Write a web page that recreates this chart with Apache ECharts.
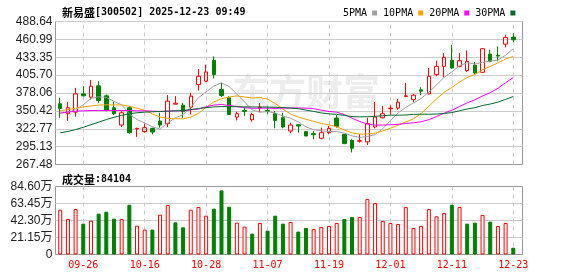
<!DOCTYPE html>
<html><head><meta charset="utf-8">
<script src="https://cdn.jsdelivr.net/npm/echarts@6/dist/echarts.min.js"></script>
<style>html,body{margin:0;padding:0;background:#fff}#c{width:578px;height:276px}</style>
</head><body><div id="c"></div>
<script>
const dates = ['09-23','09-24','09-25','09-26','09-29','09-30','10-09','10-10','10-13','10-14','10-15','10-16','10-17','10-20','10-21','10-22','10-23','10-24','10-27','10-28','10-29','10-30','10-31','11-03','11-04','11-05','11-06','11-07','11-10','11-11','11-12','11-13','11-14','11-17','11-18','11-19','11-20','11-21','11-24','11-25','11-26','11-27','11-28','12-01','12-02','12-03','12-04','12-05','12-08','12-09','12-10','12-11','12-12','12-15','12-16','12-17','12-18','12-19','12-22','12-23'];
const opens = [361.4,346.0,348.5,376.7,371.6,389.1,373.7,355.2,328.5,355.2,
322.4,318.3,323.4,334.7,330.6,360.8,359.3,356.2,391.1,396.3,
428.6,383.4,370.6,340.8,351.1,336.7,355.2,351.1,346.0,339.8,
319.3,329.0,318.3,315.2,308.0,316.7,339.3,314.2,304.9,303.4,
302.4,325.5,339.8,353.7,354.7,372.7,368.0,382.9,376.7,406.5,
419.3,428.6,419.3,412.7,420.9,410.1,438.3,436.3,453.7,464.5];
const closes = [354.2,355.2,376.7,373.7,388.6,366.5,351.1,346.0,347.5,316.7,
323.4,324.4,317.7,328.5,365.5,362.4,349.1,373.2,403.9,410.6,
406.5,374.2,344.9,346.0,349.6,344.9,356.2,349.6,335.7,325.5,
328.5,327.0,311.6,313.6,316.7,323.4,326.5,299.8,292.6,304.4,
330.6,340.8,346.0,354.7,363.9,373.7,374.7,380.9,403.9,419.3,
433.2,416.8,428.0,427.0,409.1,446.5,427.0,435.2,464.0,460.4];
const lows = [339.8,334.7,341.4,372.6,368.0,362.9,349.6,343.9,325.5,315.2,
310.1,316.7,314.2,324.4,325.5,360.8,339.8,344.9,381.9,394.7,
400.4,371.6,343.9,335.7,342.9,333.7,348.5,346.0,323.4,323.4,
315.7,316.7,311.1,306.5,306.5,314.2,324.4,298.8,286.0,301.3,
297.8,323.4,338.8,344.9,352.1,371.6,363.9,374.7,375.7,403.9,
402.4,415.7,417.8,410.6,406.5,409.1,425.5,427.0,448.6,456.8];
const highs = [370.6,364.4,386.0,388.6,398.3,396.3,375.7,364.4,350.1,357.8,
324.4,330.6,324.4,347.5,374.7,373.2,362.9,378.3,415.2,421.9,
434.7,393.7,373.2,349.0,355.7,347.5,362.4,357.3,350.1,347.5,
332.1,329.0,319.3,319.3,324.4,327.0,343.9,314.7,306.5,314.2,
339.8,364.4,357.8,359.3,369.1,393.7,376.7,387.0,416.8,428.0,
439.8,452.7,439.8,444.0,426.0,447.6,445.0,450.1,468.1,470.6];
const ma5 = [347.0,348.5,352.5,360.0,369.7,372.1,371.3,365.2,359.9,345.6,
336.9,331.6,325.9,322.1,331.9,339.7,344.6,355.7,370.8,379.8,
388.7,393.7,388.0,376.4,364.2,351.9,348.3,349.3,347.2,342.4,
339.1,333.3,325.7,321.2,319.5,318.5,318.4,316.0,311.8,309.3,
310.8,313.6,322.9,335.3,347.2,355.8,362.6,369.6,379.4,390.5,
402.4,410.8,420.2,424.9,422.8,425.5,427.5,429.0,436.4,446.6];
const ma10 = [350.5,352.5,354.5,356.5,358.0,359.3,359.8,359.5,359.6,357.6,
354.5,351.5,345.6,341.0,338.7,338.3,338.1,340.8,346.5,355.9,
364.2,369.2,371.9,373.6,372.0,370.3,371.0,368.6,361.8,353.3,
345.5,340.8,337.5,334.2,330.9,328.8,325.8,320.8,316.5,314.4,
314.6,316.0,319.4,323.6,328.3,333.3,338.1,346.2,357.4,368.9,
379.1,386.7,394.9,402.1,406.7,413.9,419.2,424.6,430.6,434.7];
const ma20 = [347.0,348.5,350.0,350.5,351.0,351.0,351.0,351.0,351.0,351.0,
350.5,350.5,350.0,349.5,350.0,350.5,350.5,352.0,353.3,356.7,
359.4,360.3,358.7,357.3,355.4,354.3,354.6,354.7,354.2,354.6,
354.8,355.0,354.7,353.9,351.5,349.5,348.4,344.7,339.2,333.9,
330.1,328.4,328.5,328.9,329.6,331.0,332.0,333.5,336.9,341.6,
346.9,351.4,357.2,362.8,367.5,373.6,378.6,385.4,394.0,401.8];
const ma30 = [316.5,318.5,321.5,325.0,329.0,333.0,337.0,340.5,343.5,346.0,
347.5,348.5,349.0,349.5,350.0,350.5,351.0,352.5,354.0,355.5,
356.5,357.0,357.0,356.8,356.6,356.5,356.4,356.3,356.0,355.6,
354.7,353.8,351.6,349.6,347.2,345.8,345.0,343.4,341.6,341.2,
341.4,342.0,342.9,343.8,343.7,344.1,345.0,345.2,345.2,345.5,
346.4,347.8,350.6,353.3,355.3,358.7,361.0,363.9,368.2,372.7];
const volumes = [55.7,44.2,56.5,38.4,42.1,50.8,53.2,44.6,44.2,61.9,
35.9,31.0,31.0,49.5,61.5,40.0,33.8,55.7,59.0,48.3,
57.0,79.7,59.4,39.6,34.7,26.0,39.2,29.7,48.3,38.4,
40.4,28.5,33.0,31.8,34.3,35.5,39.2,44.2,46.6,46.6,
68.9,64.0,41.7,39.2,38.0,59.0,33.0,35.5,56.5,47.5,
51.6,61.9,59.0,38.4,39.6,49.1,40.9,35.5,39.2,8.41];
const volUp = [1,1,1,0,1,0,0,0,1,0,
1,1,0,1,1,0,0,1,1,1,
0,0,0,1,1,0,1,0,0,0,
1,0,0,1,1,1,1,0,0,1,
1,1,1,1,1,1,1,1,1,1,
1,0,1,0,0,1,0,1,1,0];
const priceTicks = ['267.48','295.13','322.77','350.42','378.06','405.70','433.35','460.99','488.64'];
const volTicks = ['0','21.15万','42.30万','63.45万','84.60万'];
const maNames = ['5PMA','10PMA','20PMA','30PMA'];
const titleName = '新易盛';
const titleRest = '[300502] 2025-12-23 09:49';
const volLabel = '成交量';
const volLast = ':84104';
const watermark = '东方财富';

const P_MIN = 267.48, P_MAX = 488.64, P_INT = (P_MAX - P_MIN) / 8;
const V_MAX = 84.6, V_INT = V_MAX / 4;
const RED = '#ff0000', GREEN = '#008000';
const cats = dates.concat(['']);
const candle = dates.map((d, i) => [opens[i], closes[i], lows[i], highs[i]]);
const vol = volumes.map((v, i) => ({
  value: v,
  itemStyle: volUp[i] ? {color: '#ffffff', borderColor: RED, borderWidth: 1} : {color: GREEN, borderColor: GREEN, borderWidth: 1}
}));
const showIdx = (idx) => idx >= 3 && (idx - 3) % 8 === 0 && idx < dates.length;
const mono = "'DejaVu Sans Mono', monospace";
const sans = "'Liberation Sans', 'Noto Sans CJK SC', sans-serif";
const cjk = "'Noto Sans CJK SC', sans-serif";

const PX = {l: 55.5, w: 467}, DX = {l: 56.4, w: 468.4};
const PT = {t: 21.5, h: 143}, VT = {t: 186.5, h: 68};

const dataX = (gi, len, labels) => ({
  type: 'category', gridIndex: gi, data: cats, boundaryGap: true,
  axisLine: {show: false},
  axisTick: {show: true, inside: true, length: len, alignWithLabel: true, interval: (i) => showIdx(i),
    lineStyle: {color: '#cccccc', width: 1, type: [4, 4]}},
  axisLabel: {show: labels, interval: (i) => showIdx(i), color: RED, fontFamily: mono, fontSize: 10, margin: 6},
  splitLine: {show: false}
});
const frameX = (gi) => ({type: 'category', gridIndex: gi, data: cats, show: false});

const chart = echarts.init(document.getElementById('c'), null, {renderer: 'canvas'});
chart.setOption({
  animation: false,
  backgroundColor: '#fff',
  title: [
    {left: 57, top: 2, text: '{a|' + titleName + '}{b|' + titleRest + '}',
      textStyle: {rich: {a: {fontFamily: cjk, fontSize: 11, color: '#000'}, b: {fontFamily: mono, fontSize: 10, color: '#000'}}}},
    {left: 57, top: 169, text: '{a|' + volLabel + '}{b|' + volLast + '}',
      textStyle: {rich: {a: {fontFamily: cjk, fontSize: 11, color: '#000'}, b: {fontFamily: mono, fontSize: 10, color: '#000'}}}}
  ],
  legend: {
    left: 338, top: 3, align: 'right', icon: 'rect', itemWidth: 5, itemHeight: 5, itemGap: 6,
    data: maNames, textStyle: {fontFamily: mono, fontSize: 10, color: '#000'}
  },
  graphic: [{
    type: 'text', x: 306, y: 92, z: 0, silent: true,
    style: {text: watermark, font: "bold 37px 'Noto Sans CJK SC'", fill: '#ededed', align: 'center', verticalAlign: 'middle'}
  }],
  grid: [
    {left: PX.l, top: PT.t, width: PX.w, height: PT.h, show: true, borderColor: '#999', borderWidth: 1, backgroundColor: 'transparent'},
    {left: PX.l, top: VT.t, width: PX.w, height: VT.h, show: true, borderColor: '#999', borderWidth: 1, backgroundColor: 'transparent'},
    {left: DX.l, top: PT.t, width: DX.w, height: PT.h},
    {left: DX.l, top: VT.t, width: DX.w, height: VT.h}
  ],
  xAxis: [frameX(0), frameX(1), dataX(2, PT.h, false), dataX(3, VT.h, true)],
  yAxis: [
    {type: 'value', gridIndex: 0, min: P_MIN, max: P_MAX, interval: P_INT,
      axisLine: {show: false}, axisTick: {show: false},
      axisLabel: {margin: 3, color: '#222', fontFamily: sans, fontSize: 12,
        formatter: (v) => priceTicks[Math.round((v - P_MIN) / P_INT)] || ''},
      splitLine: {show: true, showMinLine: false, showMaxLine: false, lineStyle: {color: '#cccccc', width: 1}}},
    {type: 'value', gridIndex: 1, min: 0, max: V_MAX, interval: V_INT,
      axisLine: {show: false}, axisTick: {show: false},
      axisLabel: {margin: 3, color: '#222', fontFamily: sans, fontSize: 12,
        formatter: (v) => volTicks[Math.round(v / V_INT)] || ''},
      splitLine: {show: true, showMinLine: false, showMaxLine: false, lineStyle: {color: '#cccccc', width: 1}}},
    {type: 'value', gridIndex: 2, min: P_MIN, max: P_MAX, show: false, splitLine: {show: false}},
    {type: 'value', gridIndex: 3, min: 0, max: V_MAX, show: false, splitLine: {show: false}}
  ],
  series: [
    {name: 'K', type: 'candlestick', xAxisIndex: 2, yAxisIndex: 2, data: candle, barWidth: 4, z: 3,
      itemStyle: {color: 'transparent', color0: GREEN, borderColor: RED, borderColor0: GREEN, borderWidth: 1}},
    {name: maNames[0], type: 'line', xAxisIndex: 2, yAxisIndex: 2, data: ma5, symbol: 'none', color: '#a0a0a0', lineStyle: {width: 1}, z: 4},
    {name: maNames[1], type: 'line', xAxisIndex: 2, yAxisIndex: 2, data: ma10, symbol: 'none', color: '#f5a200', lineStyle: {width: 1}, z: 4},
    {name: maNames[2], type: 'line', xAxisIndex: 2, yAxisIndex: 2, data: ma20, symbol: 'none', color: '#ff00ff', lineStyle: {width: 1}, z: 4},
    {name: maNames[3], type: 'line', xAxisIndex: 2, yAxisIndex: 2, data: ma30, symbol: 'none', color: '#006b2c', lineStyle: {width: 1}, z: 4},
    {name: 'VOL', type: 'bar', xAxisIndex: 3, yAxisIndex: 3, data: vol, barWidth: 4}
  ]
});
</script></body></html>
